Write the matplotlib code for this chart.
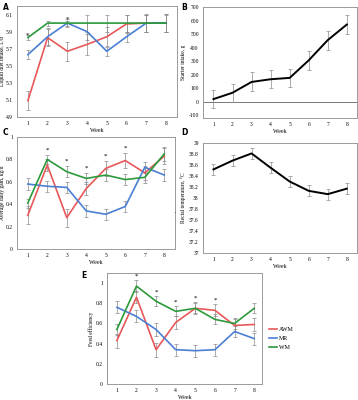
import matplotlib
matplotlib.use("Agg")
import matplotlib.pyplot as plt
import numpy as np

weeks = [1, 2, 3, 4, 5, 6, 7, 8]

# Panel A: liquid diet intake, L/d
a_awm = [5.09, 5.83, 5.67, 5.75, 5.84, 5.99, 6.00, 6.00]
a_mr = [5.63, 5.84, 6.00, 5.90, 5.67, 5.84, 6.00, 6.00]
a_wm = [5.83, 6.00, 6.00, 6.00, 6.00, 6.00, 6.00, 6.00]
a_awm_err = [0.11, 0.10, 0.11, 0.12, 0.11, 0.11, 0.11, 0.11]
a_mr_err = [0.05, 0.10, 0.05, 0.10, 0.05, 0.06, 0.10, 0.10]
a_wm_err = [0.03, 0.03, 0.03, 0.10, 0.10, 0.10, 0.10, 0.11]
a_sig = [1, 3]

# Panel B: starter intake, g
b_val = [18, 65, 145, 165, 175, 305, 455, 570]
b_err = [68, 68, 70, 68, 68, 68, 70, 72]

# Panel C: average daily gain, kg/d
c_awm = [0.30, 0.75, 0.28, 0.54, 0.72, 0.79, 0.68, 0.83]
c_mr = [0.58, 0.56, 0.55, 0.34, 0.31, 0.38, 0.73, 0.66]
c_wm = [0.41, 0.80, 0.69, 0.63, 0.66, 0.62, 0.64, 0.85]
c_awm_err = [0.08, 0.05, 0.08, 0.06, 0.07, 0.07, 0.06, 0.07]
c_mr_err = [0.05, 0.05, 0.05, 0.05, 0.05, 0.05, 0.05, 0.05]
c_wm_err = [0.04, 0.04, 0.05, 0.05, 0.05, 0.05, 0.05, 0.06]
c_sig = [2, 3, 4, 5, 6]

# Panel D: rectal temperature, °C
d_val = [38.52, 38.68, 38.81, 38.55, 38.30, 38.13, 38.07, 38.17]
d_err = [0.10, 0.10, 0.10, 0.10, 0.10, 0.10, 0.10, 0.10]

# Panel E: feed efficiency
e_awm = [0.43, 0.86, 0.34, 0.61, 0.75, 0.73, 0.58, 0.59]
e_mr = [0.76, 0.67, 0.54, 0.34, 0.33, 0.34, 0.52, 0.45]
e_wm = [0.54, 0.97, 0.82, 0.72, 0.75, 0.64, 0.60, 0.75]
e_awm_err = [0.07, 0.06, 0.07, 0.06, 0.06, 0.06, 0.06, 0.06]
e_mr_err = [0.06, 0.06, 0.06, 0.06, 0.06, 0.06, 0.05, 0.06]
e_wm_err = [0.05, 0.06, 0.05, 0.05, 0.05, 0.05, 0.05, 0.05]
e_sig = [2, 3, 4, 5, 6]

series_names = ["AWM", "MR", "WM"]
colors = ["#e8585a", "#4a7fd4", "#2a9a3a"]

plt.rcParams['font.family'] = ['Liberation Serif', 'DejaVu Serif']
FS = 4.0
ECOL = "#8a8a8a"

fig = plt.figure(figsize=(3.58, 4.0), dpi=100)


def style(ax, ylim, yticks, ylabel, labx, xlim=(0.45, 8.55)):
    ax.set_xlim(*xlim)
    ax.set_ylim(*ylim)
    ax.set_xticks(weeks)
    ax.set_yticks(yticks)
    ax.set_yticklabels([("%g" % t) for t in yticks])
    ax.tick_params(length=0, labelsize=FS, pad=3)
    for s in ax.spines.values():
        s.set_color("#9a9a9a")
        s.set_linewidth(0.7)
    ax.set_ylabel(ylabel, fontsize=FS)
    ax.yaxis.set_label_coords(labx, 0.5)
    ax.set_xlabel("Week", fontsize=FS + 0.3, labelpad=1.5)


def multi(ax, vals, errs, sig, off):
    for v, e, c in zip(vals, errs, colors):
        ax.errorbar(weeks, v, yerr=e, fmt='none', ecolor=ECOL, elinewidth=0.5,
                    capsize=1.2, capthick=0.5, zorder=2)
    for v, c, n in zip(vals, colors, series_names):
        ax.plot(weeks, v, color=c, lw=1.2, label=n, zorder=3)
    for w in sig:
        i = weeks.index(w)
        top = max(v[i] + e[i] for v, e in zip(vals, errs))
        ax.text(w, top + off, "*", ha='center', va='center', fontsize=FS + 1)


# A
axA = fig.add_axes([0.0475, 0.7075, 0.4465, 0.2775])
multi(axA, [a_awm, a_mr, a_wm], [a_awm_err, a_mr_err, a_wm_err], a_sig, 0.0)
style(axA, (4.9, 6.2), [4.9, 5.1, 5.3, 5.5, 5.7, 5.9, 6.1], "Liquid diet intake, L/d", -0.075)

# B
axB = fig.add_axes([0.567, 0.705, 0.431, 0.2775])
axB.axhline(0, color="#777777", lw=0.7, zorder=1)
axB.errorbar(weeks, b_val, yerr=b_err, fmt='none', ecolor=ECOL, elinewidth=0.5,
             capsize=1.2, capthick=0.5)
axB.plot(weeks, b_val, color="black", lw=1.4)
style(axB, (-122, 700), list(range(-100, 701, 100)), "Starter intake, g", -0.11)

# C
axC = fig.add_axes([0.0475, 0.3775, 0.4415, 0.28])
multi(axC, [c_awm, c_mr, c_wm], [c_awm_err, c_mr_err, c_wm_err], c_sig, 0.04)
style(axC, (0, 1), [0, 0.2, 0.4, 0.6, 0.8, 1], "Average daily gain, kg/d", -0.076)
axC.text(1.0, 0.32, ".", transform=axC.transAxes, fontsize=FS, ha='left')

# D
axD = fig.add_axes([0.567, 0.3675, 0.431, 0.275])
axD.errorbar(weeks, d_val, yerr=d_err, fmt='none', ecolor=ECOL, elinewidth=0.5,
             capsize=1.2, capthick=0.5)
axD.plot(weeks, d_val, color="black", lw=1.4)
style(axD, (37, 39), [37, 37.2, 37.4, 37.6, 37.8, 38, 38.2, 38.4, 38.6, 38.8, 39],
      "Rectal temperature, °C", -0.11)

# E
axE = fig.add_axes([0.299, 0.04, 0.433, 0.2775])
multi(axE, [e_awm, e_mr, e_wm], [e_awm_err, e_mr_err, e_wm_err], e_sig, 0.04)
style(axE, (0, 1.1), [0, 0.2, 0.4, 0.6, 0.8, 1], "Feed efficiency", -0.084, xlim=(0.5, 8.4))
axE.legend(loc='center left', bbox_to_anchor=(1.03, 0.41), frameon=False,
           fontsize=FS + 0.3, handlelength=1.4, handletextpad=0.2, labelspacing=0.6,
           borderaxespad=0)

# Panel letters
for x, y, t in [(3, 3, "A"), (181, 3, "B"), (3, 128, "C"), (181, 128, "D"), (81, 271, "E")]:
    fig.text(x / 358, 1 - y / 400, t, fontsize=5.5, fontweight='bold',
             family='DejaVu Sans', va='top', ha='left')

fig.savefig("out.png", dpi=100)
